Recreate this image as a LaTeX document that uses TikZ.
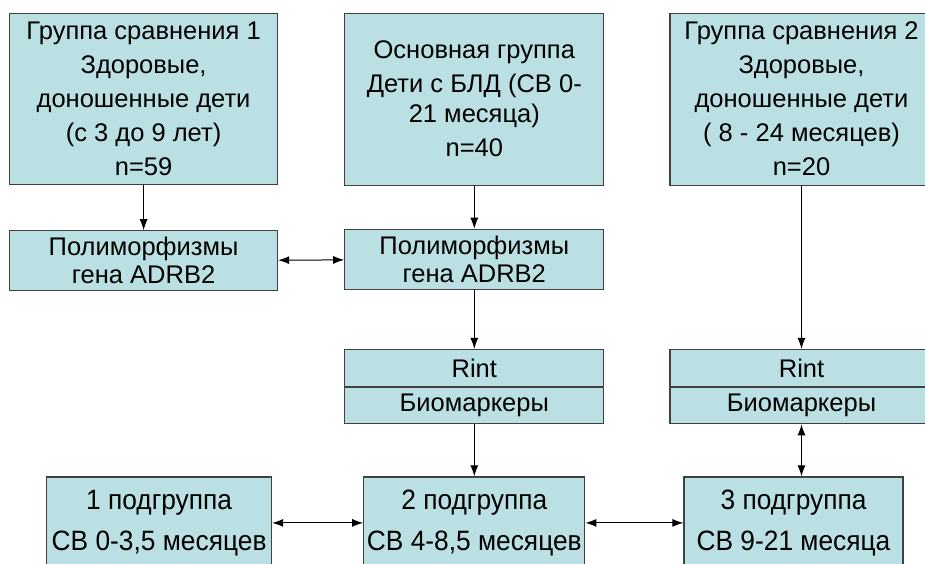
\documentclass[tikz,border=0pt]{standalone}
\usepackage{fontspec}
\setmainfont{Liberation Sans}
\newfontfamily\narrowfont{Liberation Sans}[FakeStretch=0.94]
\usetikzlibrary{positioning, arrows.meta}
\definecolor{boxfill}{RGB}{187,224,227}
\definecolor{boxline}{RGB}{64,64,64}

\tikzset{
  box/.style={draw=boxline, fill=boxfill, line width=1.2pt, align=center, inner sep=0pt,
    font=\fontsize{25.5}{34}\selectfont},
  genebox/.style={box, minimum height=60pt, font=\fontsize{25.5}{28}\selectfont},
  subbox/.style={box, minimum height=92pt, font=\narrowfont\fontsize{28}{41}\selectfont},
}

\begin{document}
\begin{tikzpicture}[node distance=45pt, >={Latex[length=11pt,width=8pt]}, line width=1pt]
  \useasboundingbox (0,0) rectangle (925pt,-563pt);

  % groups
  \node[box, anchor=north west, minimum width=268pt, minimum height=171pt] (S1) at (9pt,-13pt)
    {Группа сравнения 1\\Здоровые,\\доношенные дети\\(с 3 до 9 лет)\\n=59};
  \node[box, right=66pt of S1, minimum width=259pt, minimum height=172pt] (M)
    {Основная группа\\Дети с БЛД (СВ 0-\\[-4pt]21 месяца)\\n=40};
  \node[box, right=65pt of M, minimum width=263pt, minimum height=172pt] (S2)
    {Группа сравнения 2\\Здоровые,\\доношенные дети\\( 8 - 24 месяцев)\\n=20};

  % genes
  \node[genebox, below=45pt of S1, minimum width=268pt] (P1) {Полиморфизмы\\гена ADRB2};
  \node[genebox, below=43pt of M, minimum width=259pt] (P2) {Полиморфизмы\\гена ADRB2};

  % Rint / markers
  \node[box, below=59pt of P2, minimum width=259pt, minimum height=37pt] (R) {Rint};
  \node[box, below=0pt of R, minimum width=259pt, minimum height=36pt] (Bm) {Биомаркеры};
  \node[box, right=65pt of R, minimum width=263pt, minimum height=37pt] (R2) {Rint};
  \node[box, below=0pt of R2, minimum width=263pt, minimum height=36pt] (Bm2) {Биомаркеры};

  % subgroups
  \node[subbox, below=52pt of Bm, minimum width=221pt] (B2) {2 подгруппа\\СВ 4-8,5 месяцев};
  \node[subbox, left=91pt of B2, minimum width=225pt] (B1) {1 подгруппа\\СВ 0-3,5 месяцев};
  \node[subbox, right=98pt of B2, minimum width=219pt] (B3) {3 подгруппа\\СВ 9-21 месяца};

  \draw[->] (S1) -- (P1);
  \draw[->] (M) -- (P2);
  \draw[<->] (P1) -- (P2);
  \draw[->] (P2) -- (R);
  \draw[->] (S2) -- (R2);
  \draw[->] (Bm) -- (B2);
  \draw[<->] (Bm2.south) -- (Bm2.south |- B3.north);
  \draw[<->] (B1) -- (B2);
  \draw[<->] (B2) -- (B3);
\end{tikzpicture}
\end{document}
